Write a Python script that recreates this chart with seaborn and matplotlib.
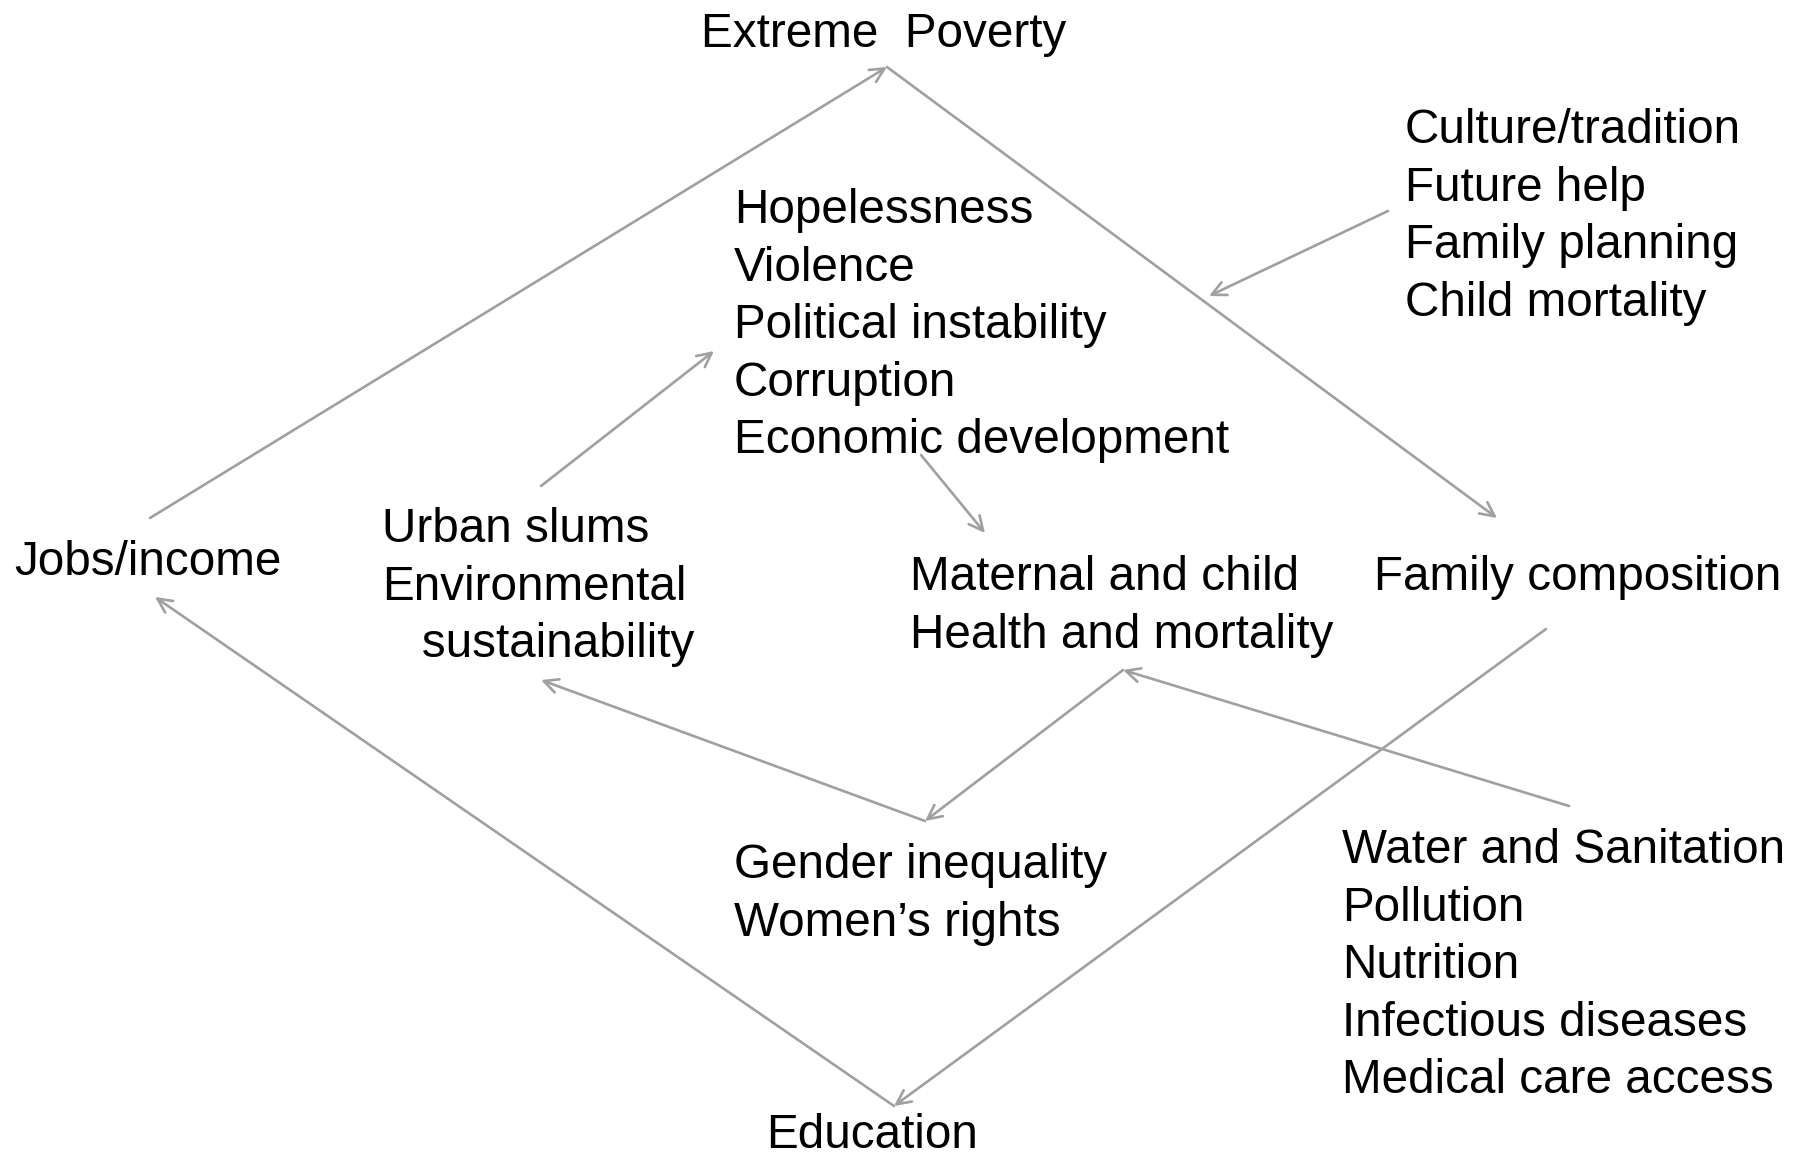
import matplotlib.pyplot as plt
import seaborn as sns

sns.set_theme(style="white")
plt.rcParams['font.family'] = ['Liberation Sans', 'DejaVu Sans']

# node labels (one list per block of text)
poverty = ["Extreme  Poverty"]
causes = ["Culture/tradition", "Future help", "Family planning", "Child mortality"]
social = ["Hopelessness", "Violence", "Political instability", "Corruption",
          "Economic development"]
jobs = ["Jobs/income"]
slums = ["Urban slums", "Environmental", "   sustainability"]
maternal = ["Maternal and child", "Health and mortality"]
family = ["Family composition"]
gender = ["Gender inequality", "Women\u2019s rights"]
health = ["Water and Sanitation", "Pollution", "Nutrition", "Infectious diseases",
          "Medical care access"]
education = ["Education"]

# arrows: (start, end) in figure pixel coordinates, head at the end
edges = [
    ((150, 518), (887, 67)),     # jobs -> poverty
    ((887, 67), (1497, 518)),    # poverty -> family composition
    ((1388, 211), (1209, 296)),  # culture -> poverty/family link
    ((541, 486), (714, 351)),    # slums -> hopelessness
    ((921, 455), (985, 533)),    # economic dev -> maternal
    ((1546, 629), (894, 1106)),  # family composition -> education
    ((894, 1106), (155, 597)),   # education -> jobs
    ((925, 821), (541, 680)),    # gender -> slums
    ((1123, 670), (925, 821)),   # health -> gender
    ((1569, 806), (1123, 670)),  # water -> health
]

W, H = 1806, 1156
fig = plt.figure(figsize=(W / 100, H / 100), dpi=100)
ax = fig.add_axes([0, 0, 1, 1])
ax.set_xlim(0, W)
ax.set_ylim(H, 0)
ax.axis('off')

FS = 34.3
STEP = 57.6


def block(lines, x, y, ha='left'):
    for i, s in enumerate(lines):
        ax.text(x, y + i * STEP, s, fontsize=FS, ha=ha, va='baseline', color='black')


block(poverty, 884, 47, ha='center')
block(causes, 1405, 143)
block(social, 734, 223)
block(jobs, 14, 575)
block(slums, 382, 542)
block(maternal, 910, 590)
block(family, 1374, 590)
block(gender, 734, 878)
block(health, 1342, 863)
block(education, 872, 1148, ha='center')

for (x0, y0), (x1, y1) in edges:
    ax.annotate("", xy=(x1, y1), xytext=(x0, y0),
                arrowprops=dict(arrowstyle="->,head_length=0.85,head_width=0.42",
                                color="#a0a0a0", lw=1.9,
                                shrinkA=0, shrinkB=0))

fig.savefig("out.png", dpi=100, facecolor="white")
